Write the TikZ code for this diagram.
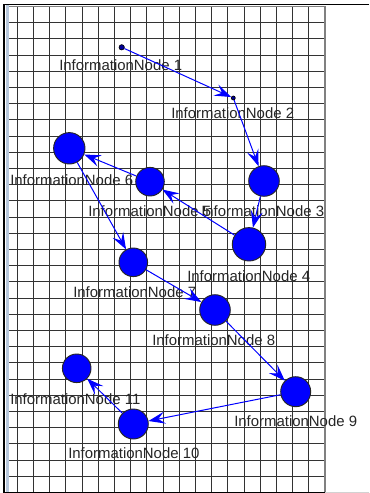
\documentclass[tikz,border=0pt]{standalone}
\usepackage{fontspec}
\setmainfont{Liberation Sans}
\usetikzlibrary{arrows.meta}
\definecolor{stripcol}{HTML}{B8C8DC}
\begin{document}
\begin{tikzpicture}[x=0.75pt,y=-0.75pt,
  gridline/.style={draw=black!80, line width=0.85pt},
  gridedge/.style={draw=gray, line width=1.4pt},
  frameline/.style={draw=black, line width=0.9pt},
  vertex/.style={circle, fill=blue, draw=black!85, line width=0.7pt, inner sep=0pt},
  dot/.style={circle, fill=blue!60!black, draw=black, line width=0.5pt, inner sep=0pt},
  lbl/.style={anchor=west, inner sep=0pt, text=black!85, font=\fontsize{11.2}{13}\selectfont},
  edge/.style={draw=blue, line width=0.75pt, -{Stealth[length=12.5pt, width=9pt, inset=5pt]}}]
\useasboundingbox (0,0) rectangle (369,493);
\fill[white] (0,0) rectangle (369,493);
% grid
\foreach \k in {0,...,18} \draw[gridline] ({17.3+16.2*\k},6.5) -- ({17.3+16.2*\k},493);
\foreach \k in {1,...,30} \draw[gridline] (8.5,{6.5+16.2*\k}) -- (325,{6.5+16.2*\k});
\draw[gridedge] (8.5,6.5) -- (325,6.5) -- (325,493);
\fill[stripcol] (6,5) rectangle (8.7,493);
% frame
\draw[frameline] (369,4.3) -- (4,4.3) -- (4,493);
\draw[frameline] (4,492.3) -- (325,492.3);
\draw[draw=gray!35, line width=0.9pt] (325,492.3) -- (369,492.3);
% vertices
\node[dot, minimum size=4pt] (n1) at (121.7,47.3) {};
\node[dot, minimum size=3pt] (n2) at (233.3,98) {};
\node[vertex, minimum size=30.6*0.75pt] (n3) at (264,181) {};
\node[vertex, minimum size=33.4*0.75pt] (n4) at (249,244.3) {};
\node[vertex, minimum size=28.6*0.75pt] (n5) at (150,181.7) {};
\node[vertex, minimum size=31.4*0.75pt] (n6) at (69.3,148.3) {};
\node[vertex, minimum size=28.6*0.75pt] (n7) at (133.3,262.3) {};
\node[vertex, minimum size=30.6*0.75pt] (n8) at (215,310) {};
\node[vertex, minimum size=30*0.75pt] (n9) at (295.7,391.7) {};
\node[vertex, minimum size=30*0.75pt] (n10) at (133.3,424) {};
\node[vertex, minimum size=28.6*0.75pt] (n11) at (76.7,368.3) {};
% labels
\node[lbl] (l1) at (59,65.5) {InformationNode 1};
\node[lbl] (l2) at (171,113) {InformationNode 2};
\node[lbl] (l3) at (201,211) {InformationNode 3};
\node[lbl] (l5) at (88,211) {InformationNode 5};
\node[lbl] (l6) at (10,180) {InformationNode 6};
\node[lbl] (l4) at (187,276) {InformationNode 4};
\node[lbl] (l7) at (73,292.5) {InformationNode 7};
\node[lbl] (l8) at (152,340.5) {InformationNode 8};
\node[lbl] (l9) at (234,421) {InformationNode 9};
\node[lbl] (l10) at (68,453.5) {InformationNode 10};
\node[lbl] (l11) at (10,399) {InformationNode 11};
% edges
\draw[edge] (n1) -- (n2);
\draw[edge] (n2) -- (n3);
\draw[edge] (n3) -- (n4);
\draw[edge] (n4) -- (n5);
\draw[edge] (n5) -- (n6);
\draw[edge] (n6) -- (n7);
\draw[edge] (n7) -- (n8);
\draw[edge] (n8) -- (n9);
\draw[edge] (n9) -- (n10);
\draw[edge] (n10) -- (n11);
\end{tikzpicture}
\end{document}
